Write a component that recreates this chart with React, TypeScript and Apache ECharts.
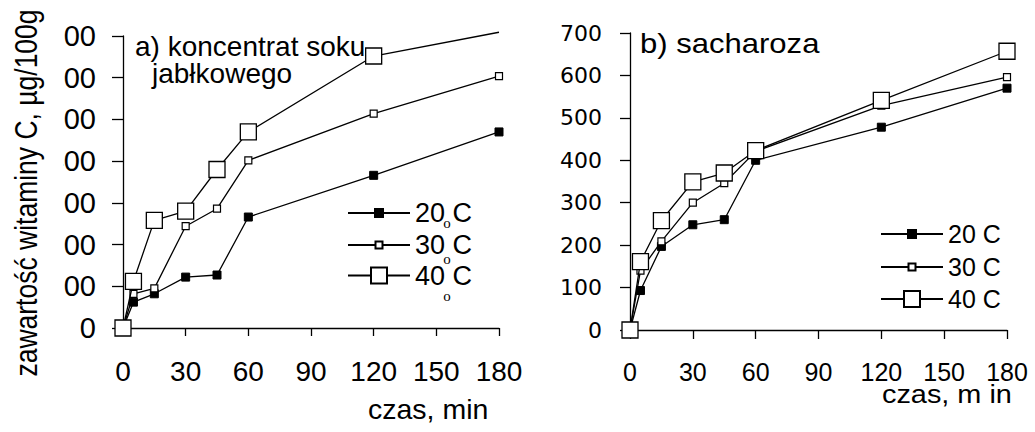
import React, { useEffect, useRef } from "react";
import * as echarts from "echarts";

const TIMES = [0, 5, 15, 30, 45, 60, 120, 180];
const X_TICKS = [0, 30, 60, 90, 120, 150, 180];
const Y_TICKS = [0, 100, 200, 300, 400, 500, 600, 700];
const SERIES_NAMES = ["20 C", "30 C", "40 C"];

// a) koncentrat soku jabłkowego
const LEFT_20 = [0, 62, 82, 122, 127, 266, 366, 470];
const LEFT_30 = [0, 82, 95, 244, 286, 402, 514, 604];
const LEFT_40 = [0, 112, 258, 280, 380, 470, 652, 709];

// b) sacharoza
const RIGHT_20 = [0, 93, 197, 248, 260, 400, 478, 570];
const RIGHT_30 = [0, 140, 209, 300, 346, 421, 529, 596];
const RIGHT_40 = [0, 161, 258, 349, 370, 423, 541, 657];

const FONT = '"Liberation Sans", Arial, sans-serif';
const LW = 1.3;

const markerStyles = [
  { symbolSize: 8, itemStyle: { color: "#000", borderColor: "#000", borderWidth: 1 } },
  { symbolSize: 7, itemStyle: { color: "#fff", borderColor: "#000", borderWidth: 1.2 } },
  { symbolSize: 16, itemStyle: { color: "#fff", borderColor: "#000", borderWidth: 1.3 } },
];

function makeSeries(name: string, idx: number, values: number[], grid: number, hideLastAbove?: number) {
  const st = markerStyles[idx];
  return {
    type: "line",
    name,
    xAxisIndex: grid,
    yAxisIndex: grid,
    symbol: "rect",
    symbolSize: st.symbolSize,
    itemStyle: st.itemStyle,
    lineStyle: { color: "#000", width: LW },
    clip: false,
    z: 2 + idx,
    data: TIMES.map((t, i) =>
      hideLastAbove !== undefined && values[i] > hideLastAbove
        ? { value: [t, values[i]], symbol: "none" }
        : [t, values[i]]
    ),
  };
}

function axisX(grid: number, fontSize: number, margin: number, tickLen: number) {
  return {
    type: "value",
    gridIndex: grid,
    min: X_TICKS[0],
    max: X_TICKS[X_TICKS.length - 1],
    interval: 30,
    axisLine: { show: true, onZero: false, lineStyle: { color: "#000", width: LW } },
    axisTick: { show: true, length: tickLen, lineStyle: { color: "#000", width: LW } },
    splitLine: { show: false },
    axisLabel: { color: "#000", fontSize, fontFamily: FONT, margin },
  };
}

function axisY(grid: number, fontSize: number, margin: number, tickLen: number, family: string) {
  return {
    type: "value",
    gridIndex: grid,
    min: Y_TICKS[0],
    max: Y_TICKS[Y_TICKS.length - 1],
    interval: 100,
    axisLine: { show: true, lineStyle: { color: "#000", width: LW } },
    axisTick: { show: true, length: tickLen, lineStyle: { color: "#000", width: LW } },
    splitLine: { show: false },
    axisLabel: { color: "#000", fontSize, fontFamily: family, margin },
  };
}

function legendItem(name: string, idx: number, left: number, centerY: number, fontSize: number, itemWidth: number) {
  const size = markerStyles[idx].symbolSize;
  return {
    data: [name],
    left,
    top: centerY - fontSize / 2,
    orient: "horizontal",
    padding: 0,
    itemWidth,
    itemHeight: size / 0.8,
    selectedMode: false,
    textStyle: { color: "#000", fontSize, fontFamily: FONT },
  };
}

function txt(text: string, x: number, y: number, fontSize: number, extra: any = {}, family = FONT) {
  return {
    type: "text",
    x,
    y,
    z: 101,
    ...extra,
    style: {
      text,
      fill: "#000",
      font: `${fontSize}px ${family}`,
      fontSize,
      fontFamily: family,
      textAlign: extra.align || "left",
      align: extra.align || "left",
      textVerticalAlign: "middle",
      verticalAlign: "middle",
    },
  };
}

export default function App() {
  const ref = useRef<HTMLDivElement>(null);
  useEffect(() => {
    if (!ref.current) return;
    const chart = echarts.init(ref.current, undefined, { renderer: "svg" });
    const option = {
      animation: false,
      backgroundColor: "#fff",
      grid: [
        { left: 123, top: 36, width: 376, height: 292 },
        { left: 630, top: 33, width: 377, height: 297 },
      ],
      xAxis: [axisX(0, 28, 29.5, 8), axisX(1, 25, 29, 9)],
      yAxis: [
        axisY(0, 29, 27, 11, FONT),
        axisY(1, 22, 28, 10, '"DejaVu Sans", sans-serif'),
      ],
      legend: [
        legendItem(SERIES_NAMES[0], 0, 347, 213, 27, 62),
        legendItem(SERIES_NAMES[1], 1, 347, 245, 27, 62),
        legendItem(SERIES_NAMES[2], 2, 347, 275.5, 27, 62),
        legendItem(SERIES_NAMES[0], 0, 880, 234, 25, 62),
        legendItem(SERIES_NAMES[1], 1, 880, 267, 25, 62),
        legendItem(SERIES_NAMES[2], 2, 880, 299, 25, 62),
      ],
      series: [
        makeSeries(SERIES_NAMES[0], 0, LEFT_20, 0),
        makeSeries(SERIES_NAMES[1], 1, LEFT_30, 0),
        makeSeries(SERIES_NAMES[2], 2, LEFT_40, 0, Y_TICKS[Y_TICKS.length - 1]),
        makeSeries(SERIES_NAMES[0], 0, RIGHT_20, 1),
        makeSeries(SERIES_NAMES[1], 1, RIGHT_30, 1),
        makeSeries(SERIES_NAMES[2], 2, RIGHT_40, 1),
      ],
      graphic: [
        { type: "rect", z: 100, shape: { x: 43, y: 15, width: 20, height: 300 }, style: { fill: "#fff" } },
        txt("zawartość witaminy C, µg/100g", 26, 193, 26.5, { rotation: Math.PI / 2, scaleY: 1.15, align: "center" }),
        txt("a) koncentrat soku", 135, 46.5, 28),
        txt("jabłkowego", 152, 73.5, 28),
        txt("czas, min", 368, 408.5, 28.5),
        txt("b) sacharoza", 640, 44, 27, { scaleX: 1.15 }),
        txt("czas, m in", 882, 394.5, 26, { scaleX: 1.11 }),
        txt("o", 447, 223, 15, { align: "center" }, '"Liberation Serif", serif'),
        txt("o", 447, 259, 15, { align: "center" }, '"Liberation Serif", serif'),
        txt("o", 447, 296, 15, { align: "center" }, '"Liberation Serif", serif'),
      ],
    };
    chart.setOption(option as any);
    return () => chart.dispose();
  }, []);
  return (
    <div
      ref={ref}
      style={{ position: "absolute", left: 0, top: 0, width: 1035, height: 432, background: "#fff" }}
    />
  );
}
